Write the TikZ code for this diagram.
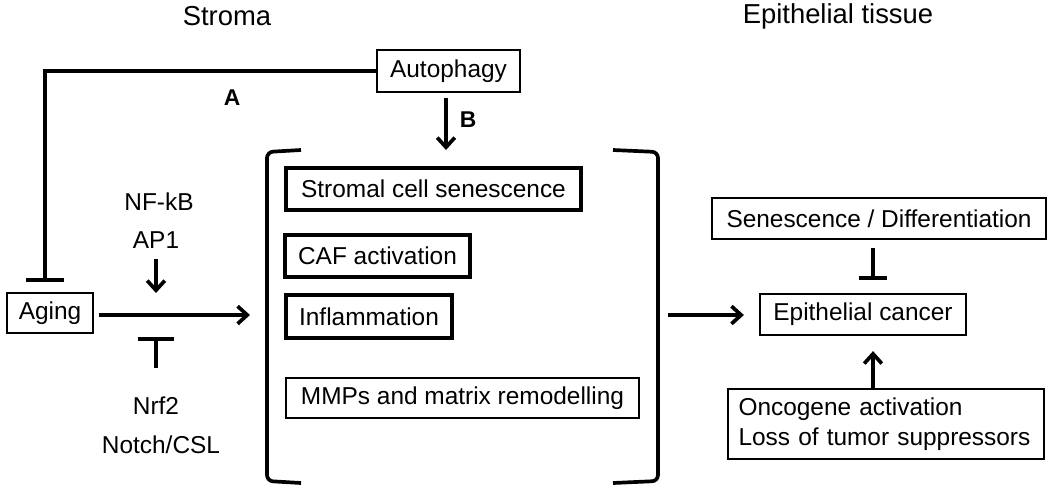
\documentclass[tikz,border=0pt]{standalone}
\usepackage{fontspec}
\setmainfont{Liberation Sans}
\usetikzlibrary{arrows.meta,shadows}

\begin{document}
\begin{tikzpicture}[x=0.02cm, y=-0.02cm,
    box/.style={draw, line width=1.3pt, fill=white, inner sep=0pt,
        font=\fontsize{13.9}{17}\selectfont,
        drop shadow={shadow xshift=0.5pt, shadow yshift=-0.7pt, opacity=0.25}},
    thickbox/.style={box, line width=2.1pt},
    lbl/.style={font=\fontsize{13.9}{17}\selectfont},
    title/.style={font=\fontsize{15.6}{18}\selectfont},
    tag/.style={font=\fontsize{13}{15}\selectfont\bfseries},
    act/.style={line width=2.1pt, -{Straight Barb[length=5.5pt,width=10pt]}},
    inh/.style={line width=2.1pt, -{Bar[width=#1]}}]

    \useasboundingbox (0,0) rectangle (1050,497);

    \node[title] (stroma) at (227,16) {Stroma};
    \node[title] (epit) at (838,16) {Epithelial tissue};

    \node[box, minimum width=2.86cm, minimum height=0.84cm] (autophagy) at (448.5,71) {Autophagy};
    \node[box, minimum width=1.72cm, minimum height=0.8cm] (aging) at (50,313) {Aging};
    \node[thickbox, minimum width=5.9cm, minimum height=0.84cm] (stromal) at (433.5,189) {Stromal cell senescence};
    \node[thickbox, minimum width=3.7cm, minimum height=0.84cm] (caf) at (377.5,256) {CAF activation};
    \node[thickbox, minimum width=3.32cm, minimum height=0.86cm] (inflam) at (369,316.5) {Inflammation};
    \node[box, minimum width=7.06cm, minimum height=0.8cm] (mmp) at (462.5,398) {MMPs and matrix remodelling};
    \node[box, minimum width=6.68cm, minimum height=0.82cm] (sendiff) at (879,218.5) {Senescence / Differentiation};
    \node[box, minimum width=4.12cm, minimum height=0.82cm] (epica) at (863,314.5) {Epithelial cancer};
    \node[box, minimum width=6.32cm, minimum height=1.4cm, align=left, text width=5.9cm] (onco) at (886,424)
        {Oncogene activation\\Loss of tumor suppressors};

    \node[lbl] (nfkb) at (159,202) {NF-kB};
    \node[lbl] (ap1) at (156,240) {AP1};
    \node[lbl] (nrf2) at (156,406) {Nrf2};
    \node[lbl] (notch) at (161,445) {Notch/CSL};
    \node[tag] (la) at (232,98) {A};
    \node[tag] (lb) at (468,120) {B};

    \coordinate (abar) at (45,282);
    \coordinate (btip) at (446,150);
    \coordinate (inl) at (250,315);
    \coordinate (outl) at (668,315);
    \coordinate (nbar) at (156,337);
    \coordinate (sbar) at (873,280);

    % brackets round the stromal changes
    \draw[line width=2.1pt, rounded corners=0.12cm] (301,150) -- (267,152) -- (267,481) -- (301,483);
    \draw[line width=2.1pt, rounded corners=0.12cm] (613,150) -- (658,152) -- (658,481) -- (613,483);

    \draw[inh=22pt] (autophagy.west) -| (abar);
    \draw[act, shorten <=0.1cm] (autophagy.south -| btip) -- (btip);
    \draw[act, shorten <=0.1cm] (aging.east |- inl) -- (inl);
    \draw[act, shorten <=0.08cm, shorten >=0.44cm] (ap1.south) -- (ap1 |- inl);
    \draw[inh=21pt, shorten <=0.45cm] (nrf2.north) -- (nbar);
    \draw[act, shorten >=0.3cm] (outl) -- (epica.west |- outl);
    \draw[inh=16pt, shorten <=0.16cm] (sendiff.south -| sbar) -- (sbar);
    \draw[act, shorten >=0.3cm] (onco.north -| sbar) -- (epica.south -| sbar);
\end{tikzpicture}
\end{document}
